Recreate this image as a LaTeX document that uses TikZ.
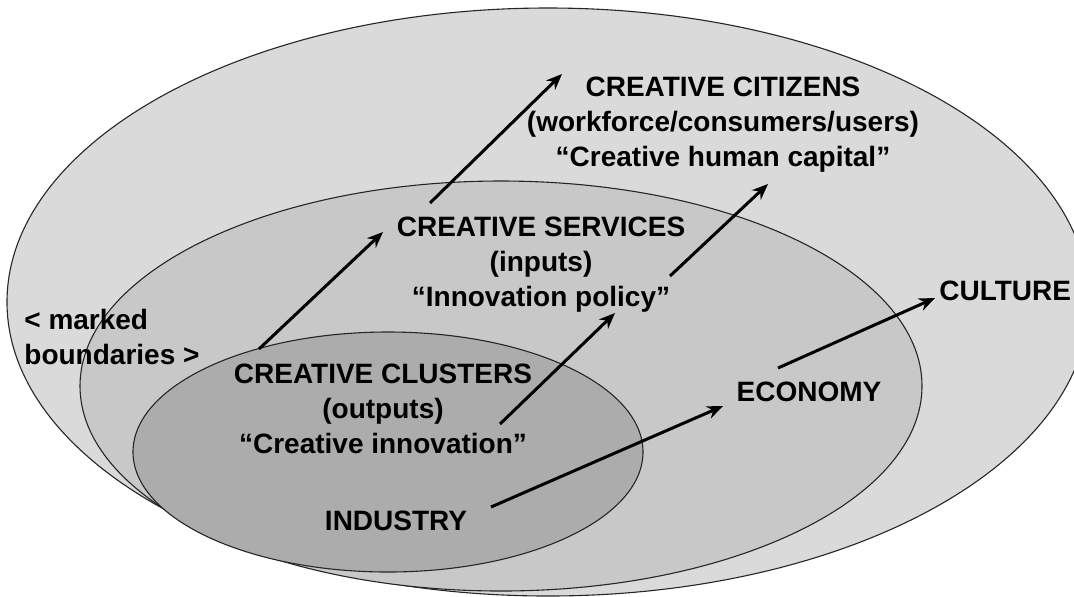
\documentclass[tikz,border=0pt]{standalone}
\usepackage{fontspec}
\setmainfont{Liberation Sans}
\usetikzlibrary{arrows.meta}
\definecolor{outerfill}{RGB}{218,218,218}
\definecolor{midfill}{RGB}{200,200,200}
\definecolor{innerfill}{RGB}{172,172,172}
\tikzset{
  ring/.style={draw=black!85, line width=0.55pt},
  lbl/.style={font=\fontsize{14}{17.5}\selectfont\bfseries, align=center, inner sep=0pt},
  flow/.style={line width=1.5pt, -{Stealth[length=8pt,width=6.5pt]}}
}
\begin{document}
\begin{tikzpicture}[x=0.5pt,y=-0.5pt]
\clip (0,0) rectangle (1074,596);
\fill[white] (0,0) rectangle (1074,596);
% ellipses
\draw[ring, fill=outerfill] (548,302) ellipse [x radius=541, y radius=294];
\draw[ring, fill=midfill] (501,386) ellipse [x radius=421, y radius=205];
\draw[ring, fill=innerfill] (388,452) ellipse [x radius=255, y radius=120];
% labels
\node[lbl] (citizens) at (723,125) {CREATIVE CITIZENS\\(workforce/consumers/users)\\``Creative human capital''};
\node[lbl] (services) at (541,265) {CREATIVE SERVICES\\(inputs)\\``Innovation policy''};
\node[lbl] (clusters) at (383,409) {CREATIVE CLUSTERS\\(outputs)\\``Creative innovation''};
\node[lbl] (industry) at (396,521) {INDUSTRY};
\node[lbl] (economy) at (809,392) {ECONOMY};
\node[lbl, anchor=west] (culture) at (939,291) {CULTURE};
\node[lbl, align=left, anchor=west] (marked) at (24,337) {< marked\\boundaries >};
% arrow end points
\coordinate (a1s) at (259,349); \coordinate (a1e) at (383,232);
\coordinate (a2s) at (430,203); \coordinate (a2e) at (562,74);
\coordinate (a3s) at (500,424); \coordinate (a3e) at (615,313);
\coordinate (a4s) at (670,276); \coordinate (a4e) at (768,184);
\coordinate (a5s) at (491,507); \coordinate (a5e) at (723,406);
\coordinate (a6s) at (778,368); \coordinate (a6e) at (935,298);
\draw[flow] (a1s) -- (a1e);
\draw[flow] (a2s) -- (a2e);
\draw[flow] (a3s) -- (a3e);
\draw[flow] (a4s) -- (a4e);
\draw[flow] (a5s) -- (a5e);
\draw[flow] (a6s) -- (a6e);
\end{tikzpicture}
\end{document}
